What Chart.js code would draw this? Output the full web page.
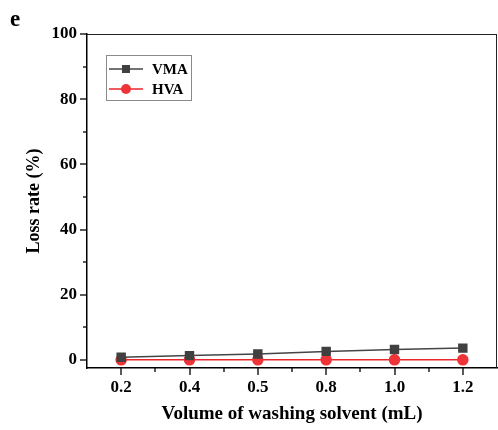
<!DOCTYPE html>
<html>
<head>
<meta charset="utf-8">
<script src="https://cdn.jsdelivr.net/npm/chart.js@4"></script>
<style>
  html, body { margin: 0; padding: 0; background: #fff; }
  #wrap { position: relative; width: 498px; height: 430px; }
  #panel { position: absolute; left: 10px; top: 6px; font: bold 23px 'Liberation Serif', serif; color: #000; }
</style>
</head>
<body>
<div id="wrap">
  <canvas id="chart" width="498" height="430"></canvas>
  <div id="panel">e</div>
</div>
<script>
// data
const volumes = ['0.2', '0.4', '0.5', '0.8', '1.0', '1.2'];
const vmaLoss = [0.8, 1.3, 1.8, 2.6, 3.2, 3.6];
const hvaLoss = [0, 0, 0, 0, 0, 0];
const yMajor = [0, 20, 40, 60, 80, 100];
const yMinor = [10, 30, 50, 70, 90];

const serif = "'Liberation Serif', 'Times New Roman', serif";

// ticks, frame and legend box
const frameAndTicks = {
  id: 'frameAndTicks',
  afterDraw(chart) {
    const { ctx, chartArea: a, scales: { x, y } } = chart;
    const line = (x1, y1, x2, y2) => { ctx.beginPath(); ctx.moveTo(x1, y1); ctx.lineTo(x2, y2); ctx.stroke(); };
    ctx.save();
    ctx.strokeStyle = '#000';
    ctx.lineWidth = 1.3;
    yMajor.forEach(v => { const p = Math.round(y.getPixelForValue(v)); line(a.left - 7, p, a.left, p); });
    yMinor.forEach(v => { const p = Math.round(y.getPixelForValue(v)); line(a.left - 4, p, a.left, p); });
    volumes.forEach((c, i) => { const p = Math.round(x.getPixelForValue(i)); line(p, a.bottom, p, a.bottom + 7); });
    for (let i = 0; i < volumes.length - 1; i++) {
      const p = Math.round(x.getPixelForValue(i + 0.5));
      line(p, a.bottom, p, a.bottom + 4);
    }
    // top and right frame
    ctx.strokeStyle = '#222';
    ctx.lineWidth = 1;
    line(a.left, a.top + 0.5, a.right, a.top + 0.5);
    line(a.right - 0.5, a.top, a.right - 0.5, a.bottom);

    // legend
    const lx = 106, ly = 55, lw = 85, lh = 45;
    ctx.fillStyle = '#fff';
    ctx.fillRect(lx, ly, lw, lh);
    ctx.strokeStyle = '#8a8a8a';
    ctx.strokeRect(lx + 0.5, ly + 0.5, lw, lh);
    chart.data.datasets.forEach((ds, i) => {
      const cy = ly + 14 + i * 20;
      ctx.strokeStyle = ds.borderColor;
      ctx.lineWidth = 1.5;
      line(lx + 3, cy, lx + 37, cy);
      ctx.fillStyle = ds.pointBackgroundColor;
      if (ds.pointStyle === 'rect') {
        ctx.fillRect(lx + 20 - 4, cy - 4, 8, 8);
      } else {
        ctx.beginPath(); ctx.arc(lx + 20, cy, 5, 0, Math.PI * 2); ctx.fill();
      }
      ctx.fillStyle = '#000';
      ctx.font = 'bold 15px ' + serif;
      ctx.textBaseline = 'middle';
      ctx.fillText(ds.label, lx + 46, cy + 1);
    });
    ctx.restore();
  }
};

new Chart(document.getElementById('chart'), {
  type: 'line',
  data: {
    labels: volumes,
    datasets: [
      {
        label: 'VMA',
        data: vmaLoss,
        borderColor: '#454545',
        backgroundColor: '#404040',
        pointBackgroundColor: '#404040',
        pointBorderColor: '#404040',
        pointStyle: 'rect',
        pointRadius: 5.6,
        borderWidth: 1.5
      },
      {
        label: 'HVA',
        data: hvaLoss,
        borderColor: '#e8262b',
        backgroundColor: '#ee3438',
        pointBackgroundColor: '#ee3438',
        pointBorderColor: '#ee3438',
        pointStyle: 'circle',
        pointRadius: 5,
        borderWidth: 1.5
      }
    ]
  },
  options: {
    responsive: false,
    animation: false,
    layout: { autoPadding: false, padding: { top: 34, right: 1, left: 0, bottom: 0 } },
    plugins: { legend: { display: false }, tooltip: { enabled: false } },
    scales: {
      x: {
        type: 'category',
        offset: true,
        grid: { display: false, drawTicks: false },
        border: { display: true, color: '#000', width: 1.5 },
        ticks: { color: '#000', padding: 9, font: { family: serif, size: 17, weight: 'bold' }, maxRotation: 0 },
        title: { display: true, text: 'Volume of washing solvent (mL)', color: '#000',
                 font: { family: serif, size: 19, weight: 'bold' }, padding: { top: 0, bottom: 5 } },
        afterFit: s => { s.height = 62; s.paddingLeft = 0; s.paddingRight = 0; }
      },
      y: {
        min: -2.5,
        max: 100,
        grid: { display: false, drawTicks: false },
        border: { display: true, color: '#000', width: 1.5 },
        ticks: { color: '#000', padding: 10, font: { family: serif, size: 17, weight: 'bold' } },
        afterBuildTicks: s => { s.ticks = yMajor.map(v => ({ value: v })); },
        title: { display: true, text: 'Loss rate (%)', color: '#000',
                 font: { family: serif, size: 18, weight: 'bold' }, padding: { top: 24, bottom: 0 } },
        afterFit: s => { s.width = 87; }
      }
    }
  },
  plugins: [frameAndTicks]
});
</script>
</body>
</html>
